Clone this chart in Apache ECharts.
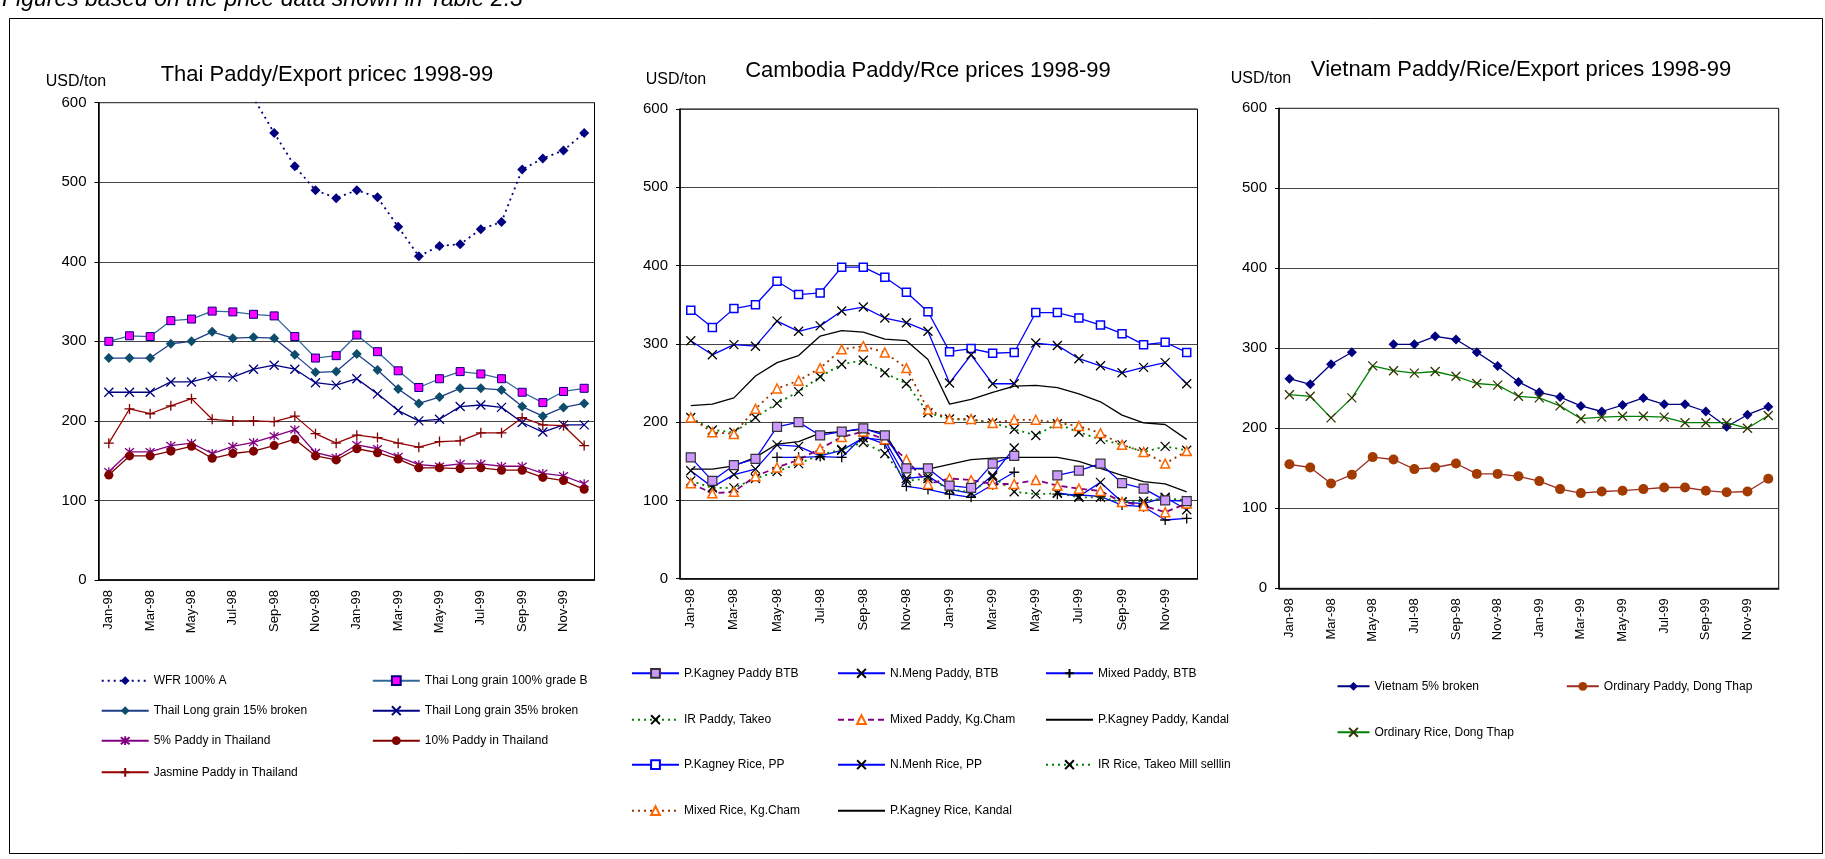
<!DOCTYPE html>
<html>
<head>
<meta charset="utf-8">
<script src="https://cdn.jsdelivr.net/npm/echarts@6/dist/echarts.min.js"></script>
<style>
  html, body { margin: 0; padding: 0; background: #fff; }
  #chart { width: 1825px; height: 859px; }
</style>
</head>
<body>
<div id="chart"></div>
<script>
// Months shared by the three panels
const months = ['Jan-98', 'Feb-98', 'Mar-98', 'Apr-98', 'May-98', 'Jun-98', 'Jul-98', 'Aug-98', 'Sep-98', 'Oct-98', 'Nov-98', 'Dec-98',
  'Jan-99', 'Feb-99', 'Mar-99', 'Apr-99', 'May-99', 'Jun-99', 'Jul-99', 'Aug-99', 'Sep-99', 'Oct-99', 'Nov-99', 'Dec-99']
const yTicks = [0, 100, 200, 300, 400, 500, 600]

// Thai panel (first 8 WFR values are off the top of the scale, estimated)
const wfr100A = [660, 655, 650, 645, 640, 630, 620, 606, 562, 520, 490, 480, 490, 481, 444, 407, 420, 422, 441, 450, 516, 530, 540, 562]
const thaiGradeB = [300, 307, 306, 326, 328, 338, 337, 334, 332, 306, 279, 282, 308, 287, 263, 242, 253, 262, 259, 253, 236, 223, 237, 241]
const thai15Broken = [279, 279, 279, 297, 300, 312, 304, 305, 304, 283, 261, 262, 284, 264, 240, 222, 230, 241, 241, 239, 218, 206, 217, 222]
const thai35Broken = [236, 236, 236, 249, 249, 256, 255, 265, 270, 265, 248, 245, 253, 234, 213, 200, 202, 218, 220, 217, 198, 186, 195, 195]
const paddy5Thai = [136, 161, 161, 169, 172, 159, 168, 173, 181, 189, 160, 154, 170, 165, 155, 145, 143, 146, 146, 143, 143, 134, 131, 121]
const paddy10Thai = [132, 156, 156, 162, 168, 153, 159, 162, 169, 177, 156, 151, 165, 160, 152, 141, 141, 140, 141, 138, 138, 129, 125, 114]
const jasmineThai = [172, 215, 209, 219, 228, 202, 200, 200, 199, 206, 184, 172, 182, 179, 172, 167, 174, 175, 185, 185, 204, 195, 194, 169]

// Cambodia panel
const pkPaddyBTB = [155, 125, 145, 153, 194, 200, 183, 188, 192, 183, 141, 141, 119, 116, 147, 157, null, 132, 138, 147, 122, 115, 100, 99]
const nMengPaddyBTB = [138, 117, 133, 140, 171, 169, 157, 164, 180, 177, 128, 131, 114, 109, 132, 167, null, 110, 105, 123, 98, 96, 104, 88]
const mixedPaddyBTB = [null, null, null, null, 155, 155, 156, 155, 182, 172, 118, 114, 108, 104, 120, 136, null, 108, 107, 105, 94, 92, 75, 77]
const irPaddyTakeo = [125, 116, 116, 128, 137, 147, 158, 165, 174, 160, 125, 128, 115, 110, 130, 111, 108, 109, 104, 104, 98, 99, 103, 100]
const mixedPaddyKgCham = [122, 109, 111, 131, 142, 152, 166, 181, 188, 178, 152, 121, 128, 126, 121, 121, 126, 119, 115, 112, 98, 93, 85, 96]
const pkPaddyKandal = [140, 140, 144, 155, 172, 175, 186, 188, 191, 186, 141, 140, 146, 152, 154, 155, 155, 155, 150, 141, 132, 124, 121, 111]
const pkRicePP = [343, 321, 345, 350, 380, 363, 365, 398, 398, 385, 366, 341, 290, 294, 288, 289, 340, 340, 333, 324, 313, 299, 302, 289]
const nMenhRicePP = [304, 286, 299, 297, 329, 316, 323, 342, 347, 333, 327, 316, 250, 286, 249, 249, 301, 298, 281, 272, 263, 270, 276, 249]
const irRiceTakeo = [206, 190, 187, 206, 224, 239, 258, 274, 279, 263, 249, 212, 204, 203, 199, 191, 183, 198, 187, 178, 171, 162, 169, 164]
const mixedRiceKgCham = [206, 187, 185, 217, 243, 253, 269, 293, 297, 289, 269, 216, 204, 204, 199, 203, 203, 199, 195, 186, 171, 162, 147, 163]
const pkRiceKandal = [221, 223, 231, 259, 276, 285, 310, 317, 315, 306, 304, 280, 223, 229, 238, 246, 247, 244, 236, 226, 209, 199, 197, 178]

// Vietnam panel
const vn5Broken = [262, 255, 280, 295, null, 305, 305, 315, 311, 295, 278, 258, 245, 239, 228, 221, 229, 238, 230, 230, 221, 202, 217, 227]
const ordPaddyDT = [155, 151, 131, 142, 164, 161, 149, 151, 156, 143, 143, 140, 134, 124, 119, 121, 122, 124, 126, 126, 122, 120, 121, 137]
const ordRiceDT = [242, 240, 213, 238, 278, 272, 269, 271, 265, 256, 254, 240, 238, 228, 212, 214, 215, 215, 214, 207, 207, 207, 200, 216]

const SANS = "'Liberation Sans', Arial, sans-serif"

const SYM_X = 'path://M0,0L10,10M10,0L0,10'
const SYM_PLUS = 'path://M5,0L5,10M0,5L10,5'
const SYM_STAR = 'path://M1,1L9,9M9,1L1,9M5,0L5,10'
const NOFILL = 'rgba(0,0,0,0)'

// panel rectangles [left, top, width, height]
const panels = [
  [98.5, 102.7, 496, 477.3],
  [680, 109, 517.5, 469.7],
  [1279, 108.3, 499.7, 480]
]

const mk = (name, data, idx, o) => ({
  name, type: 'line', data,
  xAxisIndex: idx, yAxisIndex: idx,
  symbol: o.symbol || 'none',
  symbolSize: o.size || 8,
  showSymbol: !!o.symbol,
  connectNulls: false,
  clip: true,
  animation: false,
  lineStyle: { color: o.line, width: o.width || 1.3, type: o.dash || 'solid' },
  itemStyle: {
    color: o.fill || o.line,
    borderColor: o.stroke || o.fill || o.line,
    borderWidth: o.bw || 0
  },
  emphasis: { disabled: true },
  z: o.z || 2
})

const series = [
  // Thai
  mk('WFR 100% A', wfr100A, 0, { line: '#000080', dash: [2, 4], width: 1.8, symbol: 'diamond', size: 10, fill: '#000080' }),
  mk('Thai Long grain 100% grade B', thaiGradeB, 0, { line: '#336699', symbol: 'rect', size: 8, fill: '#FF00FF', stroke: '#000080', bw: 1 }),
  mk('Thail Long grain 15% broken', thai15Broken, 0, { line: '#1F3C88', symbol: 'diamond', size: 10, fill: '#0D4D6B' }),
  mk('Thail Long grain 35% broken', thai35Broken, 0, { line: '#000080', symbol: SYM_X, size: 9, fill: NOFILL, stroke: '#000080', bw: 1.3 }),
  mk('5% Paddy in Thailand', paddy5Thai, 0, { line: '#800080', symbol: SYM_STAR, size: 9, fill: NOFILL, stroke: '#800080', bw: 1.3 }),
  mk('10% Paddy in Thailand', paddy10Thai, 0, { line: '#800000', symbol: 'circle', size: 9, fill: '#800000' }),
  mk('Jasmine Paddy in Thailand', jasmineThai, 0, { line: '#990000', symbol: SYM_PLUS, size: 10, fill: NOFILL, stroke: '#800000', bw: 1.3 }),
  // Cambodia
  mk('P.Kagney Paddy BTB', pkPaddyBTB, 1, { line: '#0000FF', symbol: 'rect', size: 9, fill: '#CC99FF', stroke: '#333333', bw: 1.2, z: 4 }),
  mk('N.Meng Paddy, BTB', nMengPaddyBTB, 1, { line: '#0000FF', symbol: SYM_X, size: 9, fill: NOFILL, stroke: '#000000', bw: 1.3 }),
  mk('Mixed Paddy, BTB', mixedPaddyBTB, 1, { line: '#0000FF', symbol: SYM_PLUS, size: 10, fill: NOFILL, stroke: '#000000', bw: 1.3 }),
  mk('IR Paddy, Takeo', irPaddyTakeo, 1, { line: '#008000', dash: [2, 4], width: 1.8, symbol: SYM_X, size: 9, fill: NOFILL, stroke: '#000000', bw: 1.3 }),
  mk('Mixed Paddy, Kg.Cham', mixedPaddyKgCham, 1, { line: '#800080', dash: [6, 4], width: 1.8, symbol: 'triangle', size: 9, fill: '#FFFFFF', stroke: '#FF6600', bw: 1.5 }),
  mk('P.Kagney Paddy, Kandal', pkPaddyKandal, 1, { line: '#000000', width: 1.3 }),
  mk('P.Kagney Rice, PP', pkRicePP, 1, { line: '#0000FF', symbol: 'rect', size: 8, fill: '#FFFFFF', stroke: '#0000FF', bw: 1.5 }),
  mk('N.Menh Rice, PP', nMenhRicePP, 1, { line: '#0000FF', symbol: SYM_X, size: 9, fill: NOFILL, stroke: '#000000', bw: 1.3 }),
  mk('IR Rice, Takeo Mill sellling', irRiceTakeo, 1, { line: '#008000', dash: [2, 4], width: 1.8, symbol: SYM_X, size: 9, fill: NOFILL, stroke: '#000000', bw: 1.3 }),
  mk('Mixed Rice, Kg.Cham', mixedRiceKgCham, 1, { line: '#993300', dash: [2, 4], width: 1.8, symbol: 'triangle', size: 9, fill: '#FFFFFF', stroke: '#FF6600', bw: 1.5 }),
  mk('P.Kagney Rice, Kandal', pkRiceKandal, 1, { line: '#000000', width: 1.3 }),
  // Vietnam
  mk('Vietnam 5% broken', vn5Broken, 2, { line: '#000080', symbol: 'diamond', size: 10, fill: '#000080' }),
  mk('Ordinary Paddy, Dong Thap', ordPaddyDT, 2, { line: '#9B2D20', symbol: 'circle', size: 10, fill: '#A33B00' }),
  mk('Ordinary Rice, Dong Thap', ordRiceDT, 2, { line: '#008000', symbol: SYM_X, size: 9, fill: NOFILL, stroke: '#333300', bw: 1.3 })
]

// legend rows: [name, iconLeft, rowCenterY, iconWidth]
const legendItems = [
  ['WFR 100% A', 100.7, 681.7, 47], ['Thai Long grain 100% grade B', 371.8, 681.7, 47],
  ['Thail Long grain 15% broken', 100.7, 711.7, 47], ['Thail Long grain 35% broken', 371.8, 711.7, 47],
  ['5% Paddy in Thailand', 100.7, 741.7, 47], ['10% Paddy in Thailand', 371.8, 741.7, 47],
  ['Jasmine Paddy in Thailand', 100.7, 773.3, 47],
  ['P.Kagney Paddy BTB', 631, 674.3, 47], ['N.Meng Paddy, BTB', 837, 674.3, 47], ['Mixed Paddy, BTB', 1045, 674.3, 47],
  ['IR Paddy, Takeo', 631, 720.7, 47], ['Mixed Paddy, Kg.Cham', 837, 720.7, 47], ['P.Kagney Paddy, Kandal', 1045, 720.7, 47],
  ['P.Kagney Rice, PP', 631, 765.7, 47], ['N.Menh Rice, PP', 837, 765.7, 47], ['IR Rice, Takeo Mill sellling', 1045, 765.7, 47],
  ['Mixed Rice, Kg.Cham', 631, 811.7, 47], ['P.Kagney Rice, Kandal', 837, 811.7, 47],
  ['Vietnam 5% broken', 1336.5, 687.3, 32], ['Ordinary Paddy, Dong Thap', 1565.8, 687.3, 32],
  ['Ordinary Rice, Dong Thap', 1336.5, 733.3, 32]
]
// series drawn without markers: hide the legend dot
const noMarker = ['P.Kagney Paddy, Kandal', 'P.Kagney Rice, Kandal']

const legend = legendItems.map(([name, left, cy, w]) => {
  const cut = name.startsWith('IR Rice')
  const item = {
    data: [name],
    left, top: cy - 7,
    padding: 0,
    itemWidth: w, itemHeight: 11,
    selectedMode: false,
    textStyle: { fontFamily: SANS, fontSize: 12, color: '#000' }
  }
  if (cut) Object.assign(item.textStyle, { width: 138, overflow: 'truncate', ellipsis: '' })
  if (noMarker.includes(name)) item.itemStyle = { opacity: 0 }
  return item
})

const grid = panels.map(([left, top, width, height]) => ({
  left, top, width, height,
  show: true, borderColor: '#000', borderWidth: 1, backgroundColor: '#fff'
}))

const xAxis = panels.map((p, i) => ({
  type: 'category', gridIndex: i, data: months, boundaryGap: true,
  axisLine: { lineStyle: { color: '#000', width: 1.5 } },
  axisTick: { inside: true, length: 5, interval: 1, lineStyle: { color: '#000' } },
  axisLabel: { interval: 1, rotate: 90, fontFamily: SANS, fontSize: 13, color: '#000', margin: 10 },
  splitLine: { show: false }
}))

const yAxis = panels.map((p, i) => ({
  type: 'value', gridIndex: i,
  min: yTicks[0], max: yTicks[yTicks.length - 1], interval: 100,
  axisLine: { show: true, lineStyle: { color: '#000', width: 1.5 } },
  axisTick: { show: true, length: 4, lineStyle: { color: '#000' } },
  axisLabel: { fontFamily: SANS, fontSize: 15, color: '#000', margin: 12 },
  splitLine: { show: true, lineStyle: { color: '#444', width: 1 } }
}))

const txt = (text, x, y, size, opts = {}) => ({
  type: 'text', x, y, silent: true,
  style: {
    text, fill: '#000',
    font: `${opts.italic ? 'italic ' : ''}${size}px ${SANS}`,
    align: opts.align || 'center', verticalAlign: 'middle'
  }
})

const graphic = [
  { type: 'rect', silent: true, shape: { x: 9.5, y: 18.5, width: 1813, height: 835 }, style: { fill: 'none', stroke: '#000', lineWidth: 1 }, z: -1 },
  txt('Figures based on the price data shown in Table 2.3', 2, 0, 23, { italic: true, align: 'left' }),
  txt('Thai Paddy/Export pricec 1998-99', 327, 75, 22),
  txt('Cambodia Paddy/Rce prices 1998-99', 928, 71, 22),
  txt('Vietnam Paddy/Rice/Export prices 1998-99', 1521, 70, 22),
  txt('USD/ton', 76, 82, 16),
  txt('USD/ton', 676, 80, 16),
  txt('USD/ton', 1261, 79, 16)
]

const chart = echarts.init(document.getElementById('chart'), null, { renderer: 'canvas' })
chart.setOption({
  animation: false,
  backgroundColor: '#fff',
  grid, xAxis, yAxis, legend, series, graphic
})
window.addEventListener('resize', () => chart.resize())
</script>
</body>
</html>
